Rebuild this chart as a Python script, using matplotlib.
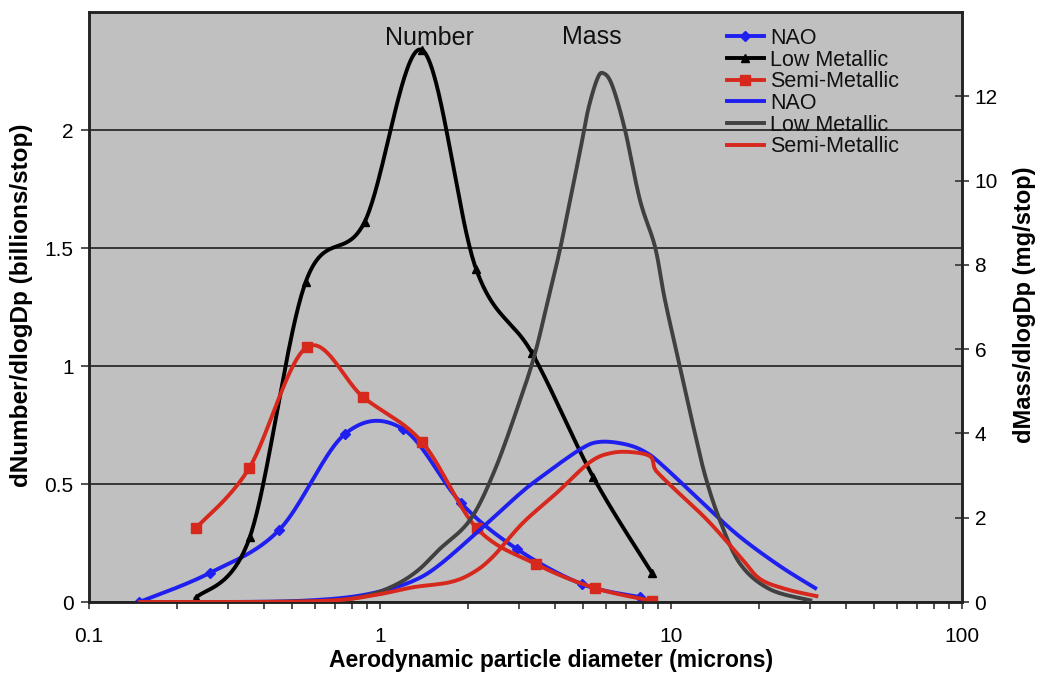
import numpy as np
import matplotlib
matplotlib.use("Agg")
import matplotlib.pyplot as plt
from matplotlib.ticker import FixedLocator, FuncFormatter, LogLocator, NullFormatter
from matplotlib.lines import Line2D

plt.rcParams['font.family'] = ['Liberation Sans', 'DejaVu Sans']

# ---------------- data ----------------
# Number distributions (left axis, billions/stop)
nao_num_x = [0.149, 0.26, 0.45, 0.758, 1.2, 1.9, 2.96, 4.94, 7.8]
nao_num_y = [0.0, 0.123, 0.305, 0.712, 0.733, 0.419, 0.224, 0.076, 0.021]

low_num_x = [0.233, 0.357, 0.555, 0.885, 1.39, 2.14, 3.33, 5.4, 8.6]
low_num_y = [0.017, 0.275, 1.355, 1.61, 2.34, 1.41, 1.055, 0.53, 0.123]

semi_num_x = [0.233, 0.355, 0.561, 0.874, 1.394, 2.15, 3.43, 5.48, 8.6]
semi_num_y = [0.313, 0.567, 1.08, 0.869, 0.678, 0.313, 0.161, 0.059, 0.005]

# Mass distributions (right axis, mg/stop)
nao_mass_x = [0.15, 0.3, 0.5, 0.75, 1.0, 1.3, 1.6, 2.26, 3.0, 3.55, 4.87,
              5.7, 7.0, 8.2, 9.5, 13.3, 17.3, 23.7, 31.3]
nao_mass_y = [0.0, 0.0, 0.02, 0.1, 0.25, 0.5, 0.88, 1.78, 2.55, 2.95, 3.62,
              3.8, 3.74, 3.55, 3.2, 2.25, 1.54, 0.85, 0.33]

low_mass_x = [0.15, 0.3, 0.5, 0.7, 0.9, 1.126, 1.35, 1.6, 2.04, 2.48, 3.03, 3.41,
              3.78, 4.15, 4.5, 4.87, 5.19, 5.57, 5.84, 6.27, 6.95, 7.82,
              8.81, 9.53, 10.7, 11.9, 13.1, 14.7, 17.3, 21.9, 30.1]
low_mass_y = [0.0, 0.0, 0.01, 0.04, 0.15, 0.4, 0.75, 1.25, 1.95, 3.13, 4.79, 5.9,
              7.17, 8.35, 9.54, 10.7, 11.68, 12.4, 12.55, 12.27, 11.2, 9.54,
              8.43, 7.17, 5.62, 4.2, 3.0, 1.95, 0.9, 0.3, 0.04]

semi_mass_x = [0.15, 0.4, 0.7, 0.97, 1.3, 1.74, 2.08, 2.44, 3.09, 4.05, 5.27,
               6.28, 7.5, 8.5, 8.75, 9.0, 10.1, 13.3, 17.3, 20.2, 25.0, 31.6]
semi_mass_y = [0.0, 0.0, 0.04, 0.17, 0.35, 0.47, 0.69, 1.07, 1.87, 2.59, 3.32,
               3.54, 3.55, 3.45, 3.2, 3.07, 2.73, 1.95, 1.07, 0.55, 0.3, 0.14]

series_names = ['NAO', 'Low Metallic', 'Semi-Metallic']
x_ticks = [0.1, 1, 10, 100]
left_ticks = [0, 0.5, 1, 1.5, 2]
right_ticks = [0, 2, 4, 6, 8, 10, 12]

# ---------------- helpers ----------------
def smooth(xs, ys, n=40):
    """Excel-like smoothed line (Catmull-Rom Bezier) in log-x space."""
    P = np.column_stack([np.log10(xs), ys]).astype(float)
    Pe = np.vstack([P[0], P, P[-1]])
    out = []
    t = np.linspace(0, 1, n)[:, None]
    for i in range(len(P) - 1):
        p0 = Pe[i + 1]
        p3 = Pe[i + 2]
        c1 = p0 + (Pe[i + 2] - Pe[i]) / 6.0
        c2 = p3 - (Pe[i + 3] - Pe[i + 1]) / 6.0
        seg = ((1 - t) ** 3) * p0 + 3 * ((1 - t) ** 2) * t * c1 + 3 * (1 - t) * t ** 2 * c2 + t ** 3 * p3
        out.append(seg if i == 0 else seg[1:])
    S = np.vstack(out)
    return 10 ** S[:, 0], S[:, 1]

BLUE = '#1f1ff0'
BLACK = '#000000'
RED = '#d6281c'
GRAY = '#404040'
BG = '#c0c0c0'
LW = 2.8

W, H = 1041, 675
fig = plt.figure(figsize=(W / 100, H / 100), dpi=100)
ax = fig.add_axes([89 / W, (H - 602) / H, 873 / W, 590 / H])
ax.set_facecolor(BG)
ax.set_xscale('log')
ax.set_xlim(0.1, 100)
ax.set_ylim(0, 2.5)

# gridlines
ax.yaxis.set_major_locator(FixedLocator(left_ticks))
ax.yaxis.set_major_formatter(FuncFormatter(lambda v, p: '%g' % v))
ax.grid(axis='y', color='#363636', linewidth=1.4)
ax.set_axisbelow(True)

# number series
x, y = smooth(nao_num_x, nao_num_y)
ax.plot(x, y, color=BLUE, lw=LW, zorder=3)
ax.plot(nao_num_x, nao_num_y, ls='none', marker='D', ms=5.5, color=BLUE, zorder=3)
x, y = smooth(low_num_x, low_num_y)
ax.plot(x, y, color=BLACK, lw=LW, zorder=3)
ax.plot(low_num_x, low_num_y, ls='none', marker='^', ms=6, color=BLACK, zorder=3)
x, y = smooth(semi_num_x, semi_num_y)
ax.plot(x, y, color=RED, lw=LW, zorder=4)
ax.plot(semi_num_x, semi_num_y, ls='none', marker='s', ms=7.5, color=RED, zorder=4)

# axis styling
ax.xaxis.set_major_locator(FixedLocator(x_ticks))
ax.xaxis.set_major_formatter(FuncFormatter(lambda v, p: '%g' % v))
ax.xaxis.set_minor_locator(LogLocator(base=10, subs=np.arange(2, 10), numticks=20))
ax.xaxis.set_minor_formatter(NullFormatter())
ax.tick_params(axis='x', which='both', direction='out', length=5, width=1.2,
               pad=13, labelsize=15, color='#333333')
ax.tick_params(axis='y', which='major', direction='out', length=6, width=1.2,
               pad=5, labelsize=15, color='#333333')
for s in ax.spines.values():
    s.set_color('#222222')
    s.set_linewidth(1.8)

ax.set_xlabel('Aerodynamic particle diameter (microns)', fontsize=16.5, fontweight='bold')
ax.xaxis.set_label_coords((551 - 89) / 873, -(660 - 602) / 590)
ax.xaxis.label.set_va('center')
ax.set_ylabel('dNumber/dlogDp (billions/stop)', fontsize=17.5, fontweight='bold')
ax.yaxis.set_label_coords((22 - 89) / 873, (602 - 305) / 590)
ax.yaxis.label.set_va('center')

# mass series (secondary axis)
ax2 = ax.twinx()
ax2.set_ylim(0, 14)
ax2.yaxis.set_major_locator(FixedLocator(right_ticks))
ax2.yaxis.set_major_formatter(FuncFormatter(lambda v, p: '%g' % v))
x, y = smooth(nao_mass_x, nao_mass_y, n=20)
ax2.plot(x, y, color=BLUE, lw=LW, zorder=3)
x, y = smooth(low_mass_x, low_mass_y, n=20)
ax2.plot(x, y, color=GRAY, lw=LW, zorder=3)
x, y = smooth(semi_mass_x, semi_mass_y, n=20)
ax2.plot(x, y, color=RED, lw=LW, zorder=4)
ax2.tick_params(axis='y', direction='inout', length=10, width=1.2, pad=4,
                labelsize=15, color='#333333')
for s in ax2.spines.values():
    s.set_color('#222222')
    s.set_linewidth(1.8)
ax2.set_ylabel('dMass/dlogDp (mg/stop)', fontsize=17, fontweight='bold')
ax2.yaxis.set_label_coords((1025 - 89) / 873, (602 - 305) / 590)
ax2.yaxis.label.set_va('center')
ax2.set_xlim(0.1, 100)

# annotations
ax2.text((429 - 89) / 873, (602 - 45) / 590, 'Number', transform=ax2.transAxes,
         ha='center', va='baseline', fontsize=18, color='#111111')
ax2.text((592 - 89) / 873, (602 - 44) / 590, 'Mass', transform=ax2.transAxes,
         ha='center', va='baseline', fontsize=18, color='#111111')

# legend
handles = [
    Line2D([], [], color=BLUE, lw=LW, marker='D', ms=5),
    Line2D([], [], color=BLACK, lw=LW, marker='^', ms=6),
    Line2D([], [], color=RED, lw=LW, marker='s', ms=6.5),
    Line2D([], [], color=BLUE, lw=LW),
    Line2D([], [], color=GRAY, lw=LW),
    Line2D([], [], color=RED, lw=LW),
]
labels = series_names + series_names
leg = ax2.legend(handles, labels, loc='upper left',
                 bbox_to_anchor=(727 / W, 1 - 28 / H), bbox_transform=fig.transFigure,
                 frameon=False, fontsize=15.5, handlelength=1.7, handletextpad=0.3,
                 labelspacing=0.03, borderpad=0, borderaxespad=0)
for t in leg.get_texts():
    t.set_color('#111111')

fig.savefig('out.png', dpi=100, facecolor='white')
